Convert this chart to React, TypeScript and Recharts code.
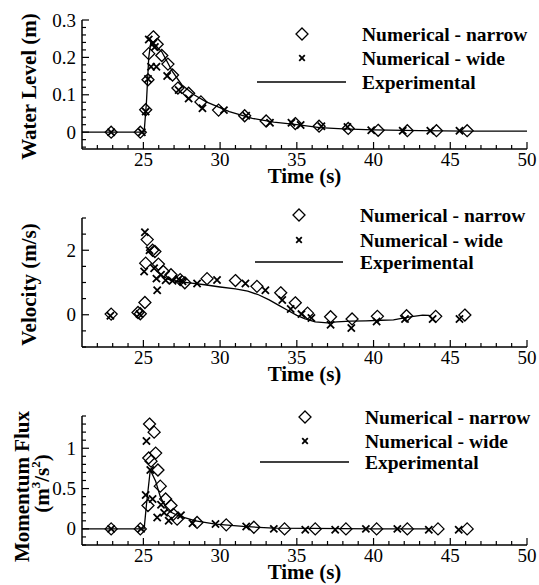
import React from 'react';
import { ComposedChart, Line, Scatter, XAxis, YAxis, Legend, Label } from 'recharts';

const FONT = 'Liberation Serif, DejaVu Serif, Times New Roman, serif';

// shared time axis
const timeTicks = [22, 23, 24, 25, 26, 27, 28, 29, 30, 31, 32, 33, 34, 35, 36, 37, 38, 39, 40, 41, 42, 43, 44, 45, 46, 47, 48, 49, 50];
const timeLabels = [25, 30, 35, 40, 45, 50];
const legendNames = ['Numerical - narrow', 'Numerical - wide', 'Experimental'];

// water level panel
const levelTicks = [-0.04, -0.02, 0, 0.02, 0.04, 0.06, 0.08, 0.1, 0.12, 0.14, 0.16, 0.18, 0.2, 0.22, 0.24, 0.26, 0.28, 0.3];
const levelLabels = [0, 0.1, 0.2, 0.3];
const levelNarrow = [
  [22.9, 0], [24.8, 0], [25.15, 0.06], [25.3, 0.14], [25.35, 0.21], [25.65, 0.255], [25.9, 0.235],
  [26.2, 0.205], [26.6, 0.182], [26.9, 0.153], [27.25, 0.118], [27.95, 0.104], [28.75, 0.081],
  [29.9, 0.059], [31.6, 0.044], [33.0, 0.03], [34.9, 0.023], [36.45, 0.016], [38.35, 0.01],
  [40.3, 0.005], [42.2, 0.004], [44.1, 0.004], [46.1, 0.004],
];
const levelWide = [
  [22.9, 0], [24.9, 0], [25.15, 0.055], [25.3, 0.142], [25.35, 0.248], [25.5, 0.175], [25.65, 0.238],
  [25.75, 0.228], [25.85, 0.175], [26.55, 0.15], [27.3, 0.113], [27.95, 0.09], [28.85, 0.064],
  [30.25, 0.059], [31.7, 0.044], [33.25, 0.025], [34.65, 0.025], [35.25, 0.019], [36.6, 0.016],
  [38.3, 0.014], [39.85, 0.005], [41.9, 0.004], [43.7, 0.004], [45.6, 0.004],
];
const levelExp = [
  [21, 0], [25.05, 0], [25.2, 0.08], [25.35, 0.2], [25.5, 0.245], [25.7, 0.235], [26.2, 0.215],
  [26.9, 0.162], [27.5, 0.127], [28.3, 0.1], [29.1, 0.081], [30.6, 0.055], [32.1, 0.037],
  [33.5, 0.027], [35, 0.02], [36.5, 0.012], [38, 0.009], [40, 0.006], [43, 0.004], [46, 0.003], [50, 0.003],
];

// velocity panel
const velTicks = [-1, -0.5, 0, 0.5, 1, 1.5, 2, 2.5, 3];
const velLabels = [0, 2];
const velNarrow = [
  [22.9, 0.02], [24.65, 0.07], [24.8, 0.03], [25.1, 0.38], [25.15, 1.6], [25.25, 2.33], [25.6, 2.0],
  [25.75, 1.96], [25.98, 1.57], [26.3, 1.34], [26.8, 1.24], [27.4, 1.09], [27.7, 0.99], [29.15, 1.12],
  [31.0, 1.06], [32.4, 0.88], [33.95, 0.68], [34.9, 0.37], [35.7, 0.05], [37.2, -0.06],
  [38.6, -0.13], [40.25, -0.05], [42.15, -0.03], [44.05, -0.05], [45.95, -0.01],
];
const velWide = [
  [22.85, -0.03], [24.75, 0.02], [25.05, 1.34], [25.1, 2.56], [25.4, 2.0], [25.7, 1.44], [25.85, 1.12],
  [25.9, 0.76], [26.15, 1.24], [26.45, 1.07], [26.9, 1.05], [27.3, 1.1], [27.55, 1.04], [28.5, 0.97],
  [29.8, 1.08], [31.65, 0.97], [32.95, 0.76], [34.05, 0.46], [34.6, 0.18], [35.3, 0.02], [35.95, -0.1],
  [37.2, -0.31], [38.55, -0.41], [40.2, -0.21], [42.05, -0.13], [43.85, -0.13], [45.6, -0.13],
];
const velExp = [
  [26.3, 1.2], [26.6, 1.1], [27, 1.05], [27.5, 1.02], [28, 0.99], [29, 0.93], [30, 0.86],
  [31, 0.8], [31.8, 0.73], [32.5, 0.62], [33.2, 0.46], [33.8, 0.3], [34.4, 0.14], [35, -0.02],
  [35.5, -0.12], [36.2, -0.22], [37, -0.25], [37.6, -0.22], [38.5, -0.2], [39.5, -0.19],
  [40.5, -0.17], [41.3, -0.16], [42, -0.1], [42.6, -0.05], [43.2, -0.01], [43.6, -0.02], [43.8, -0.12],
];

// momentum flux panel
const fluxTicks = [-0.2, -0.1, 0, 0.1, 0.2, 0.3, 0.4, 0.5, 0.6, 0.7, 0.8, 0.9, 1, 1.1, 1.2, 1.3, 1.4];
const fluxLabels = [0, 0.5, 1];
const fluxNarrow = [
  [22.9, 0], [24.8, 0], [25.3, 0.29], [25.35, 0.88], [25.4, 1.3], [25.5, 0.84], [25.7, 1.2],
  [25.8, 0.94], [25.95, 0.73], [26.1, 0.53], [26.45, 0.37], [26.8, 0.29], [26.95, 0.18], [27.2, 0.12],
  [28.5, 0.08], [30.4, 0.05], [32.2, 0.02], [34.2, 0], [36.2, 0], [38.2, 0], [40.2, 0], [42.2, 0],
  [44.2, 0], [46.1, 0],
];
const fluxWide = [
  [22.9, 0], [24.85, 0], [25.15, 0.42], [25.2, 1.09], [25.45, 0.73], [25.6, 0.37], [25.9, 0.14],
  [26.15, 0.3], [26.35, 0.2], [26.65, 0.1], [27.45, 0.17], [28.2, 0.07], [29.7, 0.06], [31.7, 0.03],
  [33.5, 0], [35.55, -0.01], [37.5, -0.01], [39.5, 0], [41.55, 0], [43.6, -0.01], [45.55, -0.01],
];
const fluxExp = [
  [21, 0], [25.05, 0], [25.2, 0.3], [25.45, 0.73], [25.8, 0.59], [26.1, 0.4], [26.55, 0.23],
  [27.3, 0.16], [28.4, 0.1], [29.7, 0.06], [31.5, 0.03], [33.5, 0.01], [36, 0.005], [40, 0], [43.6, 0],
];

const pts = (a: number[][]) => a.map(([t, v]) => ({ t, v }));

const Diamond = ({ cx, cy }: any) => (
  <path d={`M${cx},${cy - 6}L${cx + 6},${cy}L${cx},${cy + 6}L${cx - 6},${cy}Z`} fill="none" stroke="#000" strokeWidth={1.3} />
);

const Cross = ({ cx, cy, r = 3.6 }: any) => (
  <path d={`M${cx - r},${cy - r}L${cx + r},${cy + r}M${cx + r},${cy - r}L${cx - r},${cy + r}`} stroke="#000" strokeWidth={1.8} fill="none" />
);

const XTick = ({ x, y, payload }: any) => {
  const major = timeLabels.includes(payload.value);
  return (
    <g>
      <line x1={x} x2={x} y1={y} y2={y - (major ? 7 : 4)} stroke="#000" strokeWidth={1.2} />
      {major && (
        <text x={x} y={y + 10} textAnchor="middle" dominantBaseline="central" fontFamily={FONT} fontSize={19} fill="#000">
          {payload.value}
        </text>
      )}
    </g>
  );
};

const YTick = ({ x, y, payload, labels }: any) => {
  const major = labels.includes(payload.value);
  return (
    <g>
      <line x1={x} x2={x + (major ? 7 : 4)} y1={y} y2={y} stroke="#000" strokeWidth={1.2} />
      {major && (
        <text x={x - 6} y={y} textAnchor="end" dominantBaseline="central" fontFamily={FONT} fontSize={19} fill="#000">
          {payload.value}
        </text>
      )}
    </g>
  );
};

const TimeTitle = ({ viewBox }: any) => (
  <text x={viewBox.x + viewBox.width / 2} y={viewBox.y + 27} textAnchor="middle" dominantBaseline="central" fontFamily={FONT} fontSize={21} fontWeight="bold" fill="#000">
    Time (s)
  </text>
);

const titleStyle = { fontFamily: FONT, fontSize: 21, fontWeight: 'bold' as const, fill: '#000' };

const singleTitle = (text: string) => () => {
  const cx = 29;
  const cy = 20 + 129 / 2 + 2;
  return (
    <text x={cx} y={cy} transform={`rotate(-90, ${cx}, ${cy})`} textAnchor="middle" dominantBaseline="central" {...titleStyle}>
      {text}
    </text>
  );
};

const FluxTitle = () => {
  const cy = 20 + 129 / 2 + 6;
  return (
    <g>
      <text x={22} y={cy} transform={`rotate(-90, 22, ${cy})`} textAnchor="middle" dominantBaseline="central" {...titleStyle}>
        Momentum Flux
      </text>
      <text x={42} y={cy - 3} transform={`rotate(-90, 42, ${cy - 3})`} textAnchor="middle" dominantBaseline="central" {...titleStyle}>
        (m<tspan fontSize={13} dy={-7}>3</tspan><tspan dy={7}>/s</tspan><tspan fontSize={13} dy={-7}>2</tspan><tspan dy={7}>)</tspan>
      </text>
    </g>
  );
};

const makeLegend = (cfg: { mark: number; line: number[]; text: number; rows: number[] }) => () => (
  <svg width={539} height={100} style={{ display: 'block', overflow: 'visible' }}>
    <Diamond cx={cfg.mark} cy={cfg.rows[0]} />
    <Cross cx={cfg.mark} cy={cfg.rows[1]} r={2.8} />
    <line x1={cfg.line[0]} x2={cfg.line[1]} y1={cfg.rows[2]} y2={cfg.rows[2]} stroke="#000" strokeWidth={1.5} />
    {legendNames.map((n, i) => (
      <text key={n} x={cfg.text} y={cfg.rows[i]} dominantBaseline="central" fontFamily={FONT} fontSize={19.5} fontWeight="bold" fill="#000">
        {n}
      </text>
    ))}
  </svg>
);

function Panel({ top, domain, ticks, labels, title, narrow, wide, exp, legend }: any) {
  return (
    <div style={{ position: 'absolute', left: 0, top }}>
      <ComposedChart width={539} height={189} margin={{ top: 20, right: 12, bottom: 10, left: 20 }}>
        <XAxis
          type="number"
          dataKey="t"
          domain={[21, 50]}
          ticks={timeTicks}
          interval={0}
          tickSize={0}
          tickMargin={0}
          tickLine={false}
          tick={(p: any) => <XTick {...p} />}
          height={30}
          axisLine={{ stroke: '#000', strokeWidth: 1.5 }}
          allowDataOverflow
        >
          <Label content={TimeTitle} />
        </XAxis>
        <YAxis
          type="number"
          dataKey="v"
          domain={domain}
          ticks={ticks}
          interval={0}
          tickSize={0}
          tickMargin={0}
          tickLine={false}
          tick={(p: any) => <YTick {...p} labels={labels} />}
          width={62}
          axisLine={{ stroke: '#000', strokeWidth: 1.5 }}
          allowDataOverflow
        >
          <Label content={title} />
        </YAxis>
        <Line data={pts(exp)} dataKey="v" type="linear" stroke="#000" strokeWidth={1.3} dot={false} isAnimationActive={false} />
        <Scatter data={pts(narrow)} dataKey="v" shape={(p: any) => <Diamond cx={p.cx} cy={p.cy} />} isAnimationActive={false} />
        <Scatter data={pts(wide)} dataKey="v" shape={(p: any) => <Cross cx={p.cx} cy={p.cy} />} isAnimationActive={false} />
        <Legend
          layout="vertical"
          align="center"
          verticalAlign="middle"
          content={legend}
          wrapperStyle={{ left: 0, top: 0, width: 539, height: 100, pointerEvents: 'none' }}
        />
      </ComposedChart>
    </div>
  );
}

export default function App() {
  return (
    <div style={{ position: 'absolute', left: 0, top: 0, width: 539, height: 585, background: '#fff' }}>
      <Panel
        top={0}
        domain={[-0.045, 0.3]}
        ticks={levelTicks}
        labels={levelLabels}
        title={singleTitle('Water Level (m)')}
        narrow={levelNarrow}
        wide={levelWide}
        exp={levelExp}
        legend={makeLegend({ mark: 302, line: [257, 346], text: 362, rows: [34, 58, 82] })}
      />
      <Panel
        top={198}
        domain={[-1, 3]}
        ticks={velTicks}
        labels={velLabels}
        title={singleTitle('Velocity (m/s)')}
        narrow={velNarrow}
        wide={velWide}
        exp={velExp}
        legend={makeLegend({ mark: 299, line: [255, 343], text: 360, rows: [17, 42, 64] })}
      />
      <Panel
        top={396}
        domain={[-0.2, 1.4]}
        ticks={fluxTicks}
        labels={fluxLabels}
        title={FluxTitle}
        narrow={fluxNarrow}
        wide={fluxWide}
        exp={fluxExp}
        legend={makeLegend({ mark: 305, line: [260, 349], text: 365, rows: [21, 45, 66] })}
      />
    </div>
  );
}
